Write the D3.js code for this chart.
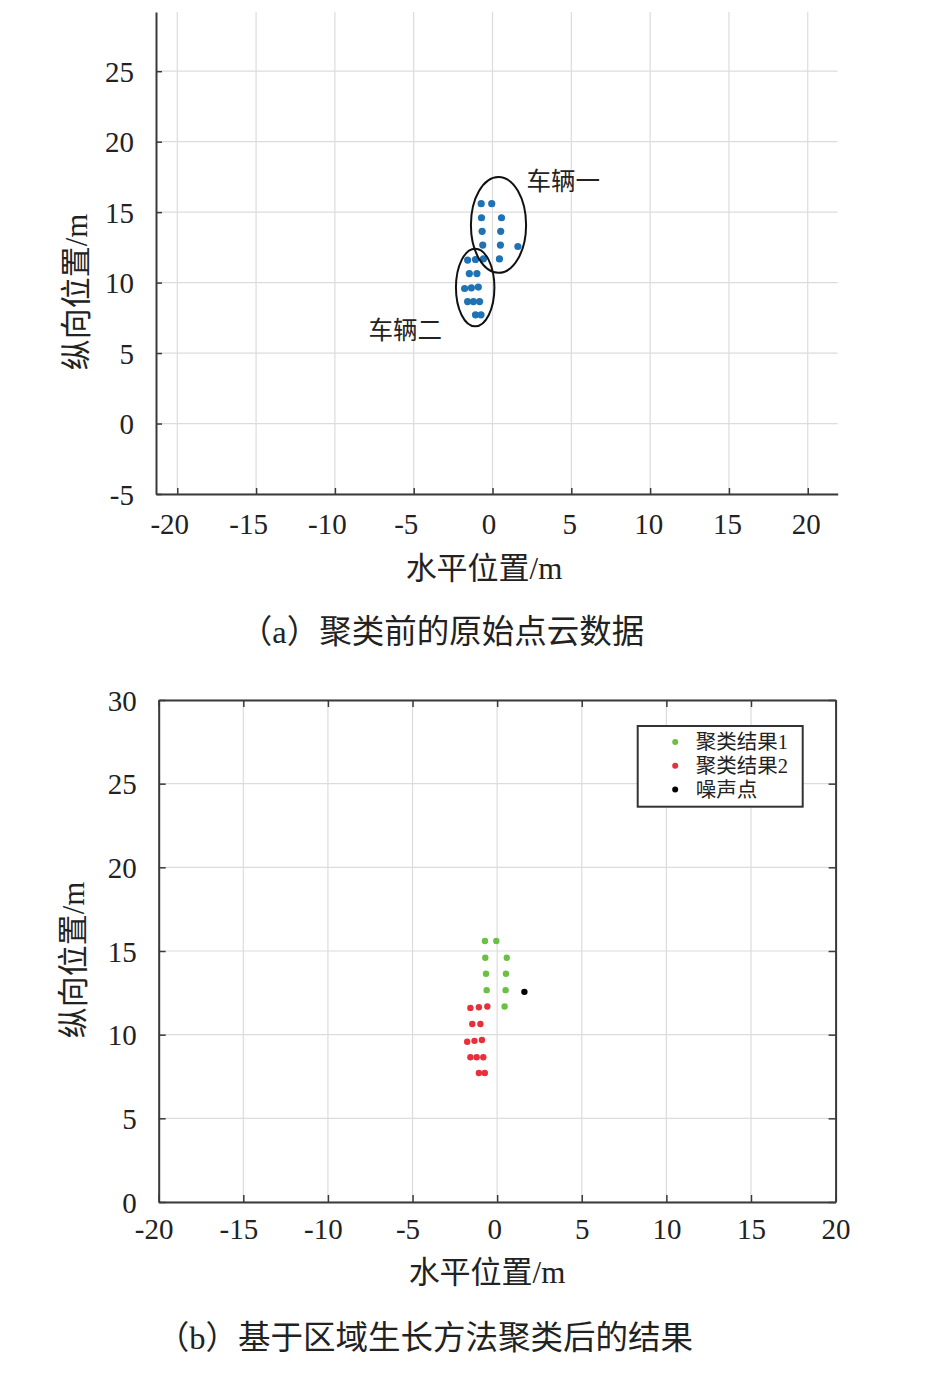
<!DOCTYPE html>
<html>
<head>
<meta charset="utf-8">
<script src="https://cdn.jsdelivr.net/npm/d3@7"></script>
<style>
  body { margin: 0; background: #fff; }
  svg { display: block; }
</style>
</head>
<body>
<div id="chart"></div>
<script>
// points (horizontal, vertical), metres
var cluster1 = [[-0.72,15.6],[-0.05,15.6],[-0.7,14.6],[0.57,14.6],[-0.66,13.64],[0.52,13.64],
                [-0.62,12.66],[0.5,12.66],[0.44,11.68]];
var cluster2 = [[-1.58,11.6],[-1.08,11.64],[-0.58,11.68],[-1.47,10.64],[-0.99,10.64],
                [-1.77,9.58],[-1.34,9.63],[-0.9,9.68],[-1.58,8.65],[-1.21,8.65],[-0.82,8.65],
                [-1.08,7.71],[-0.73,7.71]];
var noise = [[1.61,12.56]];
var rawPoints = cluster1.concat(cluster2).concat(noise);

var xTicks = [-20,-15,-10,-5,0,5,10,15,20];
var yTicksA = [-5,0,5,10,15,20,25];
var yTicksB = [0,5,10,15,20,25,30];
var legendNames = ["聚类结果1","聚类结果2","噪声点"];
var vehicleNames = ["车辆一","车辆二"];
var captions = ["（a）聚类前的原始点云数据","（b）基于区域生长方法聚类后的结果"];

var W = 937, H = 1384;
var svg = d3.select("#chart").append("svg").attr("width", W).attr("height", H);

var numFont = "'Liberation Serif', 'DejaVu Serif', serif";
var cjkFont = "'Liberation Serif', 'Noto Sans CJK SC', serif";
var fmt = function(d) { return String(d); };
var gridColor = "#dcdcdc", axisColor = "#3a3a3a", textColor = "#222";

function label(g, x, y, txt, size, anchor) {
  return g.append("text").attr("x", x).attr("y", y).attr("dy", "0.35em")
    .attr("text-anchor", anchor || "middle")
    .style("font-family", cjkFont).style("font-size", size + "px").style("fill", textColor)
    .text(txt);
}

function styleAxis(a) {
  a.attr("font-family", null);
  a.select(".domain").style("stroke", axisColor).style("stroke-width", 2);
  a.selectAll(".tick line").style("stroke", axisColor).style("stroke-width", 1.5);
  a.selectAll(".tick text").style("font-family", numFont).style("font-size", "29px").style("fill", textColor);
}

// ---------- (a) raw point cloud ----------
var xa = d3.scaleLinear().domain([-21.35, 21.9]).range([156, 837.7]);
var ya = d3.scaleLinear().domain([-5, 29.2]).range([494, 12]);

var ga = svg.append("g");

// grid
ga.append("g").selectAll("line").data(xTicks).enter().append("line")
  .attr("x1", function(d){ return xa(d); }).attr("x2", function(d){ return xa(d); })
  .attr("y1", ya.range()[0]).attr("y2", ya.range()[1])
  .style("stroke", gridColor).style("stroke-width", 1.2);
ga.append("g").selectAll("line").data(yTicksA).enter().append("line")
  .attr("y1", function(d){ return ya(d); }).attr("y2", function(d){ return ya(d); })
  .attr("x1", xa.range()[0]).attr("x2", xa.range()[1])
  .style("stroke", gridColor).style("stroke-width", 1.2);

var axA = ga.append("g").attr("transform", "translate(0," + ya.range()[0] + ")")
  .call(d3.axisBottom(xa).tickValues(xTicks).tickFormat(fmt).tickSize(-6).tickSizeOuter(0).tickPadding(12));
var ayA = ga.append("g").attr("transform", "translate(" + xa.range()[0] + ",0)")
  .call(d3.axisLeft(ya).tickValues(yTicksA).tickFormat(fmt).tickSize(-6).tickSizeOuter(0).tickPadding(22));
styleAxis(axA); styleAxis(ayA);
axA.selectAll(".tick text").attr("dy", "0.95em")
  .attr("dx", function(d){ return d < 0 ? -8 : (d === 0 ? -4 : -2); });
ayA.selectAll(".tick text").attr("dy", "0.35em");

// points
ga.append("g").selectAll("circle").data(rawPoints).enter().append("circle")
  .attr("cx", function(d){ return xa(d[0]); })
  .attr("cy", function(d){ return ya(d[1]); })
  .attr("r", 3.6)
  .style("fill", "#1f72b4");

// vehicle ellipses (annotation, data units)
var ellipses = [
  { cx: 0.38, cy: 14.09, rx: 1.75, ry: 3.4 },
  { cx: -1.1, cy: 9.65, rx: 1.22, ry: 2.75 }
];
ga.append("g").selectAll("ellipse").data(ellipses).enter().append("ellipse")
  .attr("cx", function(d){ return xa(d.cx); })
  .attr("cy", function(d){ return ya(d.cy); })
  .attr("rx", function(d){ return xa(d.cx + d.rx) - xa(d.cx); })
  .attr("ry", function(d){ return ya(d.cy - d.ry) - ya(d.cy); })
  .style("fill", "none").style("stroke", "#111").style("stroke-width", 2);

label(ga, xa(2.15), ya(17.2), vehicleNames[0], 24.5, "start");
label(ga, xa(-3.2), ya(6.6), vehicleNames[1], 24.5, "end");

label(ga, 484, 568, "水平位置/m", 31);
label(ga, 0, 0, "纵向位置/m", 31).attr("x", null).attr("y", null)
  .attr("transform", "translate(76,292) rotate(-90)");
label(svg, 442, 632, captions[0], 32.5);

// ---------- (b) clustered result ----------
var xb = d3.scaleLinear().domain([-20, 20]).range([158.7, 835.6]);
var yb = d3.scaleLinear().domain([0, 30]).range([1202, 700]);
var gb = svg.append("g");

gb.append("g").selectAll("line").data(xTicks).enter().append("line")
  .attr("x1", function(d){ return xb(d); }).attr("x2", function(d){ return xb(d); })
  .attr("y1", yb.range()[0]).attr("y2", yb.range()[1])
  .style("stroke", gridColor).style("stroke-width", 1.2);
gb.append("g").selectAll("line").data(yTicksB).enter().append("line")
  .attr("y1", function(d){ return yb(d); }).attr("y2", function(d){ return yb(d); })
  .attr("x1", xb.range()[0]).attr("x2", xb.range()[1])
  .style("stroke", gridColor).style("stroke-width", 1.2);

var axB = gb.append("g").attr("transform", "translate(0," + yb.range()[0] + ")")
  .call(d3.axisBottom(xb).tickValues(xTicks).tickFormat(fmt).tickSize(-7).tickSizeOuter(0).tickPadding(9));
var ayB = gb.append("g").attr("transform", "translate(" + xb.range()[0] + ",0)")
  .call(d3.axisLeft(yb).tickValues(yTicksB).tickFormat(fmt).tickSize(-7).tickSizeOuter(0).tickPadding(22));
var axBt = gb.append("g").attr("transform", "translate(0," + yb.range()[1] + ")")
  .call(d3.axisTop(xb).tickValues(xTicks).tickFormat("").tickSize(-7).tickSizeOuter(0));
var ayBr = gb.append("g").attr("transform", "translate(" + xb.range()[1] + ",0)")
  .call(d3.axisRight(yb).tickValues(yTicksB).tickFormat("").tickSize(-7).tickSizeOuter(0));
[axB, ayB, axBt, ayBr].forEach(styleAxis);
axB.selectAll(".tick text").attr("dy", "0.95em")
  .attr("dx", function(d){ return d < 0 ? -5 : (d === 0 ? -3 : 0); });
ayB.selectAll(".tick text").attr("dy", "0.35em");

var groups = [
  { pts: cluster1, color: "#6abf45" },
  { pts: cluster2, color: "#e8303a" },
  { pts: noise, color: "#000" }
];
groups.forEach(function(g) {
  gb.append("g").selectAll("circle").data(g.pts).enter().append("circle")
    .attr("cx", function(d){ return xb(d[0]); })
    .attr("cy", function(d){ return yb(d[1]); })
    .attr("r", 3.2)
    .style("fill", g.color);
});

// legend
var lg = gb.append("g").attr("transform", "translate(637.7,726)");
lg.append("rect").attr("width", 165).attr("height", 80.7)
  .style("fill", "#fff").style("stroke", "#333").style("stroke-width", 2);
var rows = lg.selectAll(".row").data(legendNames).enter().append("g")
  .attr("transform", function(d, i){ return "translate(0," + (16 + i * 23.8) + ")"; });
rows.append("circle").attr("cx", 37.5).attr("r", 3)
  .style("fill", function(d, i){ return groups[i].color; });
rows.append("text").attr("x", 58).attr("dy", "0.36em")
  .style("font-family", cjkFont).style("font-size", "20.5px").style("fill", textColor)
  .text(function(d){ return d; });

label(gb, 487, 1272, "水平位置/m", 31);
label(gb, 0, 0, "纵向位置/m", 31).attr("x", null).attr("y", null)
  .attr("transform", "translate(73,960) rotate(-90)");
label(svg, 425, 1338, captions[1], 32.5);
</script>
</body>
</html>
